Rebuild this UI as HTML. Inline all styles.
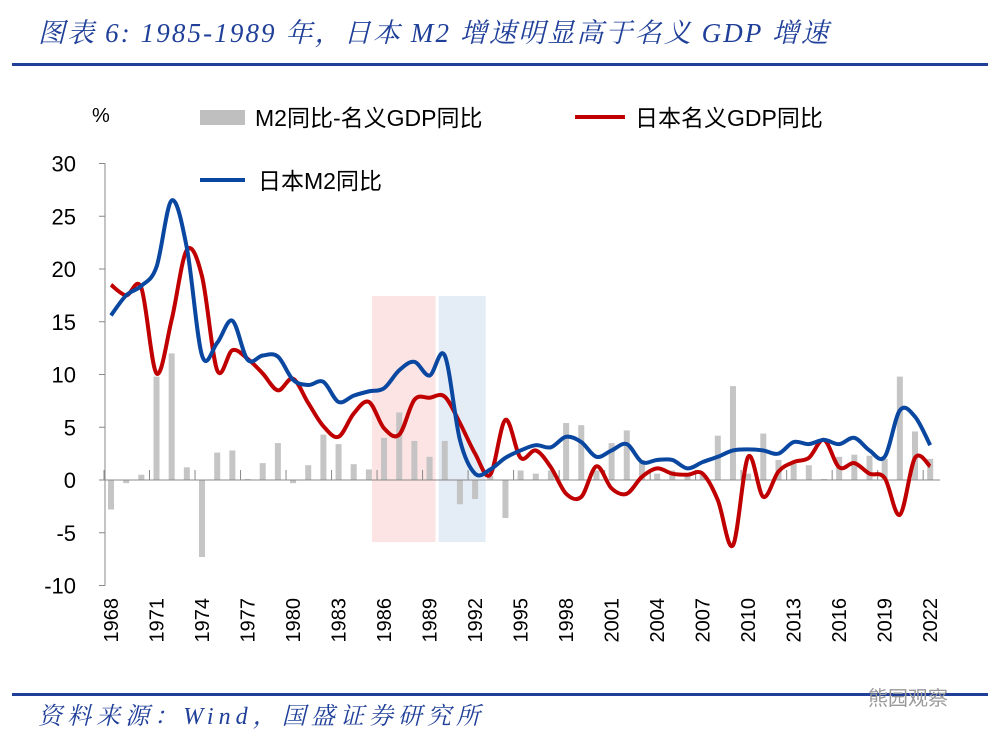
<!DOCTYPE html>
<html><head><meta charset="utf-8"><style>
body{margin:0;background:#fff;width:1000px;height:743px;overflow:hidden;font-family:"Liberation Sans","Noto Sans CJK SC",sans-serif}
</style></head><body>
<svg width="1000" height="743" viewBox="0 0 1000 743">
<text x="38" y="42" font-size="27" font-style="italic" fill="#1f3f99" textLength="790" lengthAdjust="spacing" font-family="Liberation Serif, Noto Serif CJK SC, serif">图表 6:  1985-1989 年，日本 M2 增速明显高于名义 GDP 增速</text>
<rect x="12" y="63" width="976" height="3" fill="#1f3f99"/>
<rect x="12" y="693" width="976" height="3" fill="#1f3f99"/>
<text x="38" y="724" font-size="24" font-style="italic" fill="#1f3f99" textLength="442" lengthAdjust="spacing" font-family="Liberation Serif, Noto Serif CJK SC, serif">资料来源：Wind，国盛证券研究所</text>
<text x="868" y="705" font-size="20" fill="#999">熊园观察</text>
<text x="92" y="122" font-size="20" fill="#000">%</text>
<g>
<rect x="200" y="110" width="45" height="15" fill="#bfbfbf"/>
<text x="255" y="126" font-size="23">M2同比-名义GDP同比</text>
<line x1="575" y1="117" x2="625" y2="117" stroke="#c00000" stroke-width="4"/>
<text x="635" y="126" font-size="23">日本名义GDP同比</text>
<line x1="200" y1="180" x2="245" y2="180" stroke="#0a47a0" stroke-width="4"/>
<text x="258" y="189" font-size="23">日本M2同比</text>
</g>
<g id="plot"></g>
</svg>
<script>
const years=[];for(let y=1968;y<=2022;y++)years.push(y);
const m2=[15.6,17.5,18.4,20.2,26.5,22,11.8,13.0,15.1,11.4,11.8,11.7,9.5,9.0,9.3,7.4,8.0,8.4,8.7,10.4,11.2,9.9,11.8,3.8,0.6,1.0,2.1,2.8,3.3,3.1,4.1,3.6,2.2,2.8,3.4,1.7,1.9,1.9,1.1,1.7,2.2,2.8,2.9,2.8,2.5,3.6,3.4,3.8,3.4,4.0,2.8,2.2,6.6,6.0,3.3];
const gdp=[18.5,17.5,18.2,10.1,15.2,21.8,19.3,10.4,12.3,11.5,10.1,8.5,9.6,7.3,5.1,4.1,6.3,7.4,4.9,4.3,7.6,7.8,7.9,5.4,2.5,0.5,5.7,2.1,2.8,1.2,-1.3,-1.6,1.3,-0.8,-1.3,0.3,1.1,0.6,0.5,0.6,-1.9,-6.2,2.2,-1.6,0.8,1.7,2.1,3.8,1.2,1.6,0.6,0.2,-3.3,2.1,1.3];
const diff=[-2.8,-0.3,0.5,9.8,12.0,1.2,-7.3,2.6,2.8,0.1,1.6,3.5,-0.3,1.4,4.3,3.4,1.5,1.0,4.0,6.4,3.7,2.2,3.7,-2.3,-1.8,0.4,-3.6,0.9,0.6,0.9,5.4,5.2,0.9,3.5,4.7,1.9,0.6,0.9,0.6,0.5,4.2,8.9,0.6,4.4,1.9,1.6,1.4,0.1,2.2,2.4,2.3,2.0,9.8,4.6,2.0];
const yTicks=[30,25,20,15,10,5,0,-5,-10];
const xLabelYears=[1968,1971,1974,1977,1980,1983,1986,1989,1992,1995,1998,2001,2004,2007,2010,2013,2016,2019,2022];
const shadeRanges=[[1985.2,1989.4,'#fde4e4'],[1989.6,1992.7,'#e4ecf6']];
const X=y=>111+(y-1968)*15.17, Y=v=>480-v*10.55;
const ns='http://www.w3.org/2000/svg', g=document.getElementById('plot');
function mk(t,a){const e=document.createElementNS(ns,t);for(const k in a)e.setAttribute(k,a[k]);g.appendChild(e);return e;}
shadeRanges.forEach(r=>{const e=mk('rect',{x:X(r[0]),y:296,width:X(r[1])-X(r[0]),height:246,fill:r[2]});

});
let e=mk('line',{x1:105,y1:Y(30),x2:105,y2:Y(-10),stroke:'#888','stroke-width':1});


yTicks.forEach(v=>{let t=mk('line',{x1:99,y1:Y(v),x2:105,y2:Y(v),stroke:'#888'});


let l=mk('text',{x:76,y:Y(v)+8,'font-size':22,'text-anchor':'end'});l.textContent=v;

});
years.forEach((y,i)=>{const v=diff[i];const b=mk('rect',{x:X(y)-3,y:Math.min(Y(v),Y(0)),width:6,height:Math.abs(Y(v)-Y(0)),fill:'#bfbfbf',opacity:0.9});

});
e=mk('line',{x1:105,y1:Y(0),x2:940,y2:Y(0),stroke:'#888'});


xLabelYears.forEach(y=>{let t=mk('line',{x1:X(y)-7,y1:Y(0)-10,x2:X(y)-7,y2:Y(0),stroke:'#888'});


let l=mk('text',{x:0,y:0,'font-size':20,'text-anchor':'end',transform:`translate(${X(y)+7},598) rotate(-90)`});l.textContent=y;

});
function path(vals){const p=years.map((y,i)=>[X(y),Y(vals[i])]);let d='M'+p[0][0]+','+p[0][1];
for(let i=0;i<p.length-1;i++){const p0=p[Math.max(0,i-1)],p1=p[i],p2=p[i+1],p3=p[Math.min(p.length-1,i+2)];
const c1=[p1[0]+(p2[0]-p0[0])/6,p1[1]+(p2[1]-p0[1])/6],c2=[p2[0]-(p3[0]-p1[0])/6,p2[1]-(p3[1]-p1[1])/6];
d+=`C${c1[0]},${c1[1]} ${c2[0]},${c2[1]} ${p2[0]},${p2[1]}`;}return d;}
e=mk('path',{d:path(gdp),fill:'none',stroke:'#c00000','stroke-width':4,'stroke-linejoin':'round'});


e=mk('path',{d:path(m2),fill:'none',stroke:'#0a47a0','stroke-width':4,'stroke-linejoin':'round'});


</script>
</body></html>
